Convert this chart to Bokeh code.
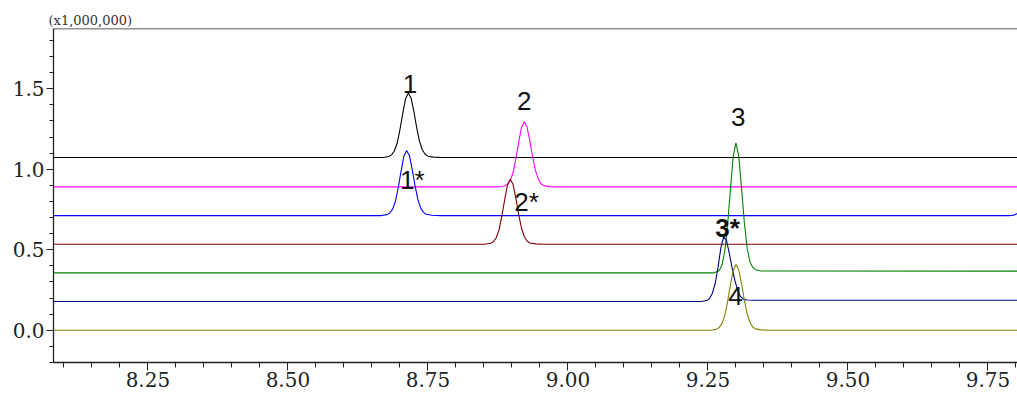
from bokeh.plotting import figure
from bokeh.models import Range1d, Span, SingleIntervalTicker, PrintfTickFormatter
from bokeh.embed import file_html
from bokeh.resources import INLINE
from bokeh.core.properties import value

# ---- data (intensity in units of 1,000,000; traces shown stacked) ----
t1_x = [8.081, 8.670, 8.680, 8.685, 8.690, 8.695, 8.700, 8.705, 8.710, 8.715, 8.720, 8.725, 8.730, 8.735, 8.740, 8.745, 8.750, 8.760, 8.775, 9.803]
t1_y = [1.073, 1.073, 1.079, 1.089, 1.113, 1.161, 1.245, 1.345, 1.437, 1.473, 1.441, 1.357, 1.257, 1.173, 1.121, 1.093, 1.081, 1.075, 1.073, 1.073]

t2_x = [8.081, 8.877, 8.887, 8.892, 8.897, 8.902, 8.907, 8.912, 8.917, 8.922, 8.927, 8.932, 8.937, 8.942, 8.947, 8.952, 8.957, 8.967, 8.982, 9.803]
t2_y = [0.890, 0.890, 0.896, 0.906, 0.930, 0.979, 1.064, 1.165, 1.258, 1.294, 1.262, 1.177, 1.076, 0.991, 0.938, 0.910, 0.898, 0.892, 0.890, 0.890]

t1s_x = [8.081, 8.667, 8.677, 8.682, 8.687, 8.692, 8.697, 8.702, 8.707, 8.712, 8.717, 8.722, 8.727, 8.732, 8.737, 8.742, 8.747, 8.757, 8.772, 9.790, 9.797, 9.803]
t1s_y = [0.712, 0.712, 0.718, 0.728, 0.752, 0.801, 0.886, 0.987, 1.080, 1.116, 1.084, 0.999, 0.898, 0.813, 0.760, 0.732, 0.720, 0.714, 0.712, 0.712, 0.715, 0.726]

t2s_x = [8.081, 8.852, 8.862, 8.867, 8.872, 8.877, 8.882, 8.887, 8.892, 8.897, 8.902, 8.907, 8.912, 8.917, 8.922, 8.927, 8.932, 8.942, 8.957, 9.803]
t2s_y = [0.534, 0.534, 0.540, 0.550, 0.574, 0.623, 0.708, 0.809, 0.902, 0.938, 0.906, 0.821, 0.720, 0.635, 0.582, 0.554, 0.542, 0.536, 0.534, 0.534]

t3_x = [8.081, 9.260, 9.270, 9.275, 9.280, 9.285, 9.290, 9.295, 9.300, 9.305, 9.310, 9.315, 9.320, 9.325, 9.330, 9.335, 9.345, 9.803]
t3_y = [0.356, 0.356, 0.370, 0.404, 0.488, 0.647, 0.869, 1.077, 1.163, 1.083, 0.884, 0.669, 0.509, 0.426, 0.390, 0.376, 0.368, 0.367]

t3s_x = [8.081, 9.238, 9.248, 9.253, 9.258, 9.263, 9.268, 9.273, 9.278, 9.283, 9.288, 9.293, 9.298, 9.303, 9.308, 9.313, 9.320, 9.330, 9.803]
t3s_y = [0.178, 0.178, 0.184, 0.198, 0.230, 0.290, 0.390, 0.510, 0.580, 0.560, 0.480, 0.390, 0.310, 0.250, 0.210, 0.193, 0.188, 0.186, 0.186]

t4_x = [8.081, 9.255, 9.265, 9.270, 9.275, 9.280, 9.285, 9.290, 9.295, 9.300, 9.305, 9.310, 9.315, 9.320, 9.325, 9.330, 9.335, 9.345, 9.360, 9.803]
t4_y = [0.000, 0.000, 0.006, 0.016, 0.041, 0.090, 0.175, 0.277, 0.371, 0.408, 0.375, 0.290, 0.188, 0.102, 0.049, 0.020, 0.008, 0.002, 0.000, 0.000]

traces = [(t1_x, t1_y), (t2_x, t2_y), (t1s_x, t1s_y), (t2s_x, t2s_y),
          (t3_x, t3_y), (t3s_x, t3s_y), (t4_x, t4_y)]
colors = ["#000000", "#ff00ff", "#0000ff", "#800000", "#008000", "#000080", "#808000"]

peak_labels = ["1", "2", "3", "1*", "2*", "4"]
peak_label_x = [8.718, 8.922, 9.304, 8.722, 8.926, 9.299]
peak_label_y = [1.532, 1.422, 1.325, 0.932, 0.797, 0.211]
bold_labels = ["3*"]
bold_label_x = [9.285]
bold_label_y = [0.637]

x_start, x_end = 8.0814, 9.8028
y_start, y_end = -0.2006, 1.874

p = figure(width=1017, height=394, output_backend="svg", toolbar_location=None,
           x_range=Range1d(x_start, x_end), y_range=Range1d(y_start, y_end),
           min_border_left=53, min_border_right=0, min_border_top=28, min_border_bottom=32,
           background_fill_color="white", border_fill_color="white")
p.outline_line_color = None
p.xgrid.visible = False
p.ygrid.visible = False

for (xs, ys), c in zip(traces, colors):
    p.line(xs, ys, line_color=c, line_width=1.1)

p.text(x=peak_label_x, y=peak_label_y, text=peak_labels, text_font=value("Liberation Sans"),
       text_font_size="26px", text_align="center", text_baseline="middle", text_color="#111111")
p.text(x=bold_label_x, y=bold_label_y, text=bold_labels, text_font=value("Liberation Sans"),
       text_font_size="26px", text_font_style="bold", text_align="center", text_baseline="middle",
       text_color="#111111")

p.add_layout(Span(location=y_end, dimension="width", line_color="#222222", line_width=1.5))

p.xaxis.ticker = SingleIntervalTicker(interval=0.25, num_minor_ticks=5)
p.yaxis.ticker = SingleIntervalTicker(interval=0.5, num_minor_ticks=5)
p.xaxis.formatter = PrintfTickFormatter(format="%.2f")
p.yaxis.formatter = PrintfTickFormatter(format="%.1f")

for ax in (p.xaxis, p.yaxis):
    ax.major_label_text_font = "DejaVu Serif"
    ax.major_label_text_font_size = "20px"
    ax.major_label_text_color = "#222222"
    ax.axis_line_color = "#222222"
    ax.axis_line_width = 1.3
    ax.major_tick_line_color = "#222222"
    ax.minor_tick_line_color = "#222222"
    ax.major_tick_in = 0
    ax.minor_tick_in = 0
p.xaxis.major_tick_out = 8
p.xaxis.minor_tick_out = 5
p.xaxis.major_label_standoff = 1
p.yaxis.major_tick_out = 7
p.yaxis.minor_tick_out = 4
p.yaxis.major_label_standoff = 2

p.title.text = "(x1,000,000)"
p.title.text_font = "DejaVu Serif"
p.title.text_font_size = "13px"
p.title.text_font_style = "normal"
p.title.text_color = "#333333"
p.title.align = "left"
p.title.offset = -5
p.title.standoff = 2

open("out.html", "w").write(file_html(p, INLINE))
